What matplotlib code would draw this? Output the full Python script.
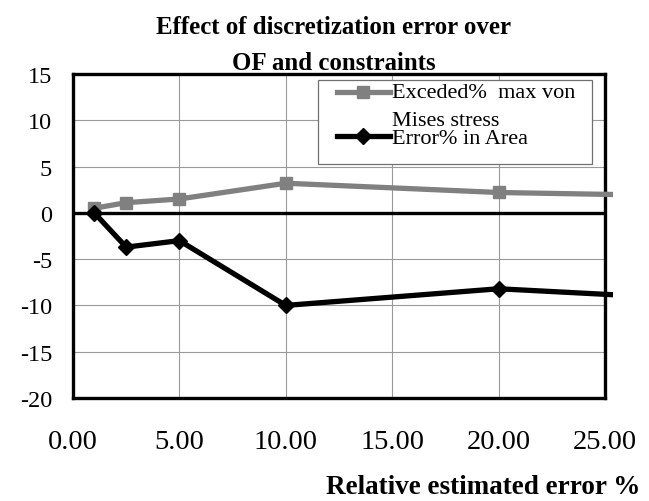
import matplotlib
matplotlib.use("Agg")
import matplotlib.pyplot as plt
from matplotlib.patches import Rectangle
from matplotlib.lines import Line2D

# Data
rel_error = [1, 2.5, 5, 10, 20, 30]
exceeded_stress = [0.5, 1.1, 1.5, 3.2, 2.2, 1.8]
area_error = [0.0, -3.7, -3.0, -10.0, -8.2, -9.4]

xticks = [0, 5, 10, 15, 20, 25]
yticks = [-20, -15, -10, -5, 0, 5, 10, 15]

label_stress = "Exceded%  max von"
label_stress2 = "Mises stress"
label_area = "Error% in Area"

plt.rcParams["font.family"] = ["Liberation Serif", "DejaVu Serif"]

W, H = 649, 502
fig = plt.figure(figsize=(W / 100, H / 100), dpi=100)


def fx(x):
    return x / W


def fy(y):
    return 1 - y / H


left, right, top, bottom = 73, 605, 75, 399
ax = fig.add_axes([fx(left), fy(bottom), (right - left) / W, (bottom - top) / H])

ax.set_xlim(0, 25)
ax.set_ylim(-20, 15)
ax.set_xticks(xticks)
ax.set_yticks(yticks)
ax.set_xticklabels([f"{t:.2f}" for t in xticks])
ax.set_yticklabels([str(t) for t in yticks])
ax.tick_params(length=0)
ax.tick_params(axis="x", pad=22, labelsize=20.5)
ax.tick_params(axis="y", pad=15, labelsize=17.5)

ax.grid(True, color="#9a9a9a", lw=0.8)
ax.set_axisbelow(True)
for s in ax.spines.values():
    s.set_linewidth(2.4)
    s.set_color("black")
ax.axhline(0, color="black", lw=2.4, zorder=1.5)

# lines run slightly past the right spine, like the original
clip = Rectangle((0, 0), 1 + 8 / (right - left), 1, transform=ax.transAxes)
l1, = ax.plot(rel_error, exceeded_stress, color="#808080", lw=3.8,
              marker="s", markersize=9, zorder=3)
l2, = ax.plot(rel_error, area_error, color="black", lw=3.8,
              marker="D", markersize=8, zorder=4)
for ln in (l1, l2):
    ln.set_clip_path(clip)

# legend, drawn by hand so the handle sits on the first label line
fig.patches.append(Rectangle((fx(318), fy(165)), (592 - 318) / W, (165 - 81) / H,
                             transform=fig.transFigure, fill=True, facecolor="white",
                             edgecolor="#707070", lw=0.9, zorder=5))
for yy, col, mk, ms in [(93, "#808080", "s", 9), (137, "black", "D", 8)]:
    fig.lines.append(Line2D([fx(337), fx(390)], [fy(yy), fy(yy)], transform=fig.transFigure,
                            color=col, lw=3.8, zorder=6))
    fig.lines.append(Line2D([fx(363)], [fy(yy)], transform=fig.transFigure, color=col,
                            marker=mk, markersize=ms, zorder=6))
fig.text(fx(392), fy(93), label_stress, fontsize=16, va="center", ha="left", zorder=7)
fig.text(fx(392), fy(121), label_stress2, fontsize=16, va="center", ha="left", zorder=7)
fig.text(fx(392), fy(140), label_area, fontsize=16, va="center", ha="left", zorder=7)

# title and axis label
fig.text(fx(334), fy(27), "Effect of discretization error over", fontsize=17.9,
         fontweight="bold", ha="center", va="center")
fig.text(fx(334), fy(63), "OF and constraints", fontsize=17.9,
         fontweight="bold", ha="center", va="center")
fig.text(fx(640), fy(488), "Relative estimated error %", fontsize=19.5,
         fontweight="bold", ha="right", va="center")

fig.savefig("out.png", dpi=100)
